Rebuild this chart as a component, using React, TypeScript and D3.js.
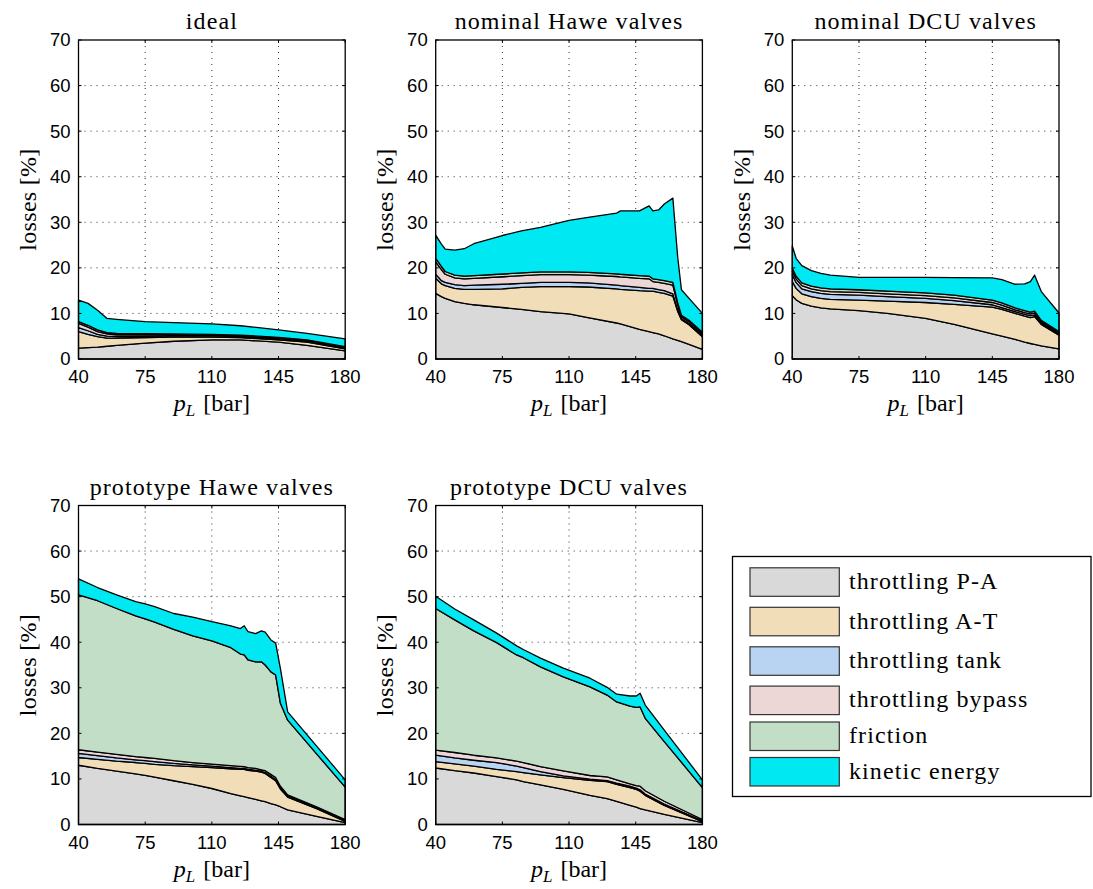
import React from "react";
import * as d3 from "d3";

// ---------- data ----------
const layerNames = ["throttling P-A", "throttling A-T", "throttling tank", "throttling bypass", "friction", "kinetic energy"];
const layerColors = ["#d9d9d9", "#f2ddb9", "#b9d4f3", "#ecd6d6", "#c3dec7", "#00e9f2"];
const xTicks = [40, 75, 110, 145, 180];
const yTicks = [0, 10, 20, 30, 40, 50, 60, 70];

// ideal
const idealX = [40, 45, 50, 55, 60, 75, 90, 110, 125, 145, 160, 180];
const idealPA = [2.4, 2.5, 2.6, 2.8, 3.0, 3.5, 3.9, 4.2, 4.2, 3.7, 3.0, 1.8];
const idealAT = [3.6, 2.9, 2.3, 1.8, 1.6, 1.2, 0.9, 0.6, 0.5, 0.5, 0.7, 0.4];
const idealTank = [0.9, 0.8, 0.5, 0.4, 0.3, 0.25, 0.2, 0.2, 0.2, 0.2, 0.15, 0.15];
const idealBypass = [0.9, 0.8, 0.6, 0.5, 0.4, 0.35, 0.3, 0.25, 0.2, 0.2, 0.2, 0.2];
const idealFriction = [0.4, 0.4, 0.4, 0.3, 0.3, 0.25, 0.2, 0.15, 0.15, 0.15, 0.15, 0.15];
const idealKinetic = [4.7, 4.8, 4.3, 3.1, 3.1, 2.65, 2.5, 2.3, 2.05, 1.65, 1.4, 1.7];

// nominal Hawe valves
const nomHaweX = [40, 43, 45, 50, 55, 60, 75, 85, 95, 110, 120, 135, 137, 147, 152, 154, 157, 160, 164.5, 167, 169, 173, 180];
const nomHawePA = [14.4, 13.7, 13.3, 12.6, 12.2, 11.9, 11.3, 10.9, 10.4, 9.9, 9.1, 7.9, 7.7, 6.5, 6.0, 5.8, 5.5, 5.1, 4.4, 4.1, 3.8, 3.2, 2.1];
const nomHaweAT = [3.3, 2.8, 2.8, 2.9, 3.1, 3.4, 4.1, 4.8, 5.5, 6.0, 6.7, 7.5, 7.6, 8.5, 8.9, 9.1, 9.1, 9.3, 9.4, 6.4, 4.8, 4.3, 2.8];
const nomHaweTank = [0.9, 0.7, 0.7, 0.8, 0.8, 0.9, 1.0, 0.9, 0.9, 0.9, 0.9, 0.8, 0.8, 0.7, 0.6, 0.6, 0.6, 0.6, 0.5, 0.4, 0.3, 0.3, 0.3];
const nomHaweBypass = [2.7, 2.4, 1.8, 1.5, 1.5, 1.5, 1.65, 1.7, 1.7, 1.7, 1.7, 1.9, 1.9, 2.0, 2.1, 1.5, 1.6, 1.6, 1.9, 1.1, 0.4, 0.4, 0.4];
const nomHaweFriction = [0.8, 0.7, 0.6, 0.6, 0.6, 0.6, 0.6, 0.6, 0.6, 0.6, 0.6, 0.6, 0.6, 0.6, 0.6, 0.6, 0.6, 0.6, 0.6, 0.4, 0.3, 0.3, 0.3];
const nomHaweKinetic = [5.1, 4.9, 4.9, 5.5, 6.0, 7.0, 8.45, 9.2, 9.8, 11.3, 12.1, 13.3, 13.9, 14.2, 15.4, 14.9, 15.3, 16.8, 18.5, 10.1, 5.6, 4.8, 4.1];

// nominal DCU valves
const nomDcuX = [40, 42, 45, 50, 55, 60, 75, 90, 110, 125, 145, 150, 157, 162, 165, 167.2, 170.7, 180];
const nomDcuPA = [13.9, 13.0, 12.2, 11.6, 11.2, 11.0, 10.6, 10.0, 8.9, 7.6, 5.5, 5.0, 4.3, 3.7, 3.4, 3.2, 2.9, 2.2];
const nomDcuAT = [3.1, 2.5, 2.1, 2.1, 2.1, 2.1, 2.3, 2.7, 3.5, 4.4, 5.9, 5.9, 5.7, 5.7, 5.7, 6.1, 4.7, 3.0];
const nomDcuTank = [1.5, 1.3, 1.1, 1.1, 1.1, 1.1, 1.1, 1.0, 0.9, 0.8, 0.5, 0.4, 0.4, 0.4, 0.4, 0.4, 0.3, 0.2];
const nomDcuBypass = [0.7, 0.8, 0.7, 0.6, 0.6, 0.6, 0.6, 0.6, 0.6, 0.6, 0.5, 0.5, 0.4, 0.4, 0.4, 0.4, 0.3, 0.3];
const nomDcuFriction = [0.7, 0.6, 0.6, 0.6, 0.6, 0.6, 0.6, 0.6, 0.6, 0.6, 0.5, 0.5, 0.4, 0.4, 0.4, 0.4, 0.3, 0.3];
const nomDcuKinetic = [4.9, 3.9, 3.8, 3.4, 3.2, 3.0, 2.7, 3.0, 3.4, 3.85, 4.9, 5.1, 5.2, 5.9, 6.7, 7.9, 6.3, 4.1];

// prototype Hawe valves
const protoHaweX = [40, 50, 60, 70, 75, 80, 90, 100, 110, 120, 125, 127, 129, 133, 136, 138, 141, 143.5, 146, 149.8, 165, 180];
const protoHawePA = [13.0, 12.3, 11.7, 11.1, 10.8, 10.4, 9.6, 8.8, 7.9, 6.8, 6.3, 6.1, 5.9, 5.5, 5.2, 5.0, 4.6, 4.3, 3.9, 3.2, 1.8, 0.4];
const protoHaweAT = [1.7, 2.0, 2.2, 2.5, 2.6, 2.8, 3.3, 3.9, 4.6, 5.4, 5.8, 6.0, 6.0, 6.2, 6.3, 6.2, 5.7, 5.3, 3.9, 2.8, 1.7, 0.3];
const protoHaweTank = [0.9, 0.8, 0.7, 0.6, 0.6, 0.6, 0.5, 0.4, 0.3, 0.3, 0.2, 0.2, 0.2, 0.2, 0.2, 0.2, 0.3, 0.2, 0.2, 0.2, 0.2, 0.2];
const protoHaweBypass = [0.8, 0.8, 0.8, 0.7, 0.7, 0.7, 0.6, 0.5, 0.45, 0.4, 0.45, 0.4, 0.4, 0.4, 0.3, 0.4, 0.4, 0.5, 0.4, 0.3, 0.2, 0.2];
const protoHaweFriction = [34.0, 33.2, 32.0, 30.9, 30.4, 29.9, 28.8, 27.8, 27.05, 25.9, 24.65, 24.5, 23.6, 23.4, 23.7, 23.2, 22.5, 22.5, 18.2, 16.4, 11.6, 7.1];
const protoHaweKinetic = [3.5, 2.9, 3.0, 3.1, 3.3, 3.4, 3.5, 4.1, 4.2, 4.8, 5.6, 6.4, 6.2, 6.2, 6.8, 7.2, 7.0, 7.0, 7.6, 1.8, 1.7, 1.6];

// prototype DCU valves
const protoDcuX = [40, 50, 60, 72, 82.5, 86, 95, 107, 121, 130, 135, 142, 145.3, 147.3, 150, 160, 180];
const protoDcuPA = [12.4, 11.8, 11.3, 10.5, 9.8, 9.4, 8.7, 7.7, 6.4, 5.7, 5.1, 4.2, 3.8, 3.5, 3.2, 2.2, 0.4];
const protoDcuAT = [1.4, 1.5, 1.5, 1.6, 1.8, 2.0, 2.2, 2.6, 3.3, 3.7, 3.7, 3.9, 3.9, 3.8, 3.2, 2.0, 0.2];
const protoDcuTank = [1.4, 1.3, 1.3, 1.5, 1.2, 1.1, 0.7, 0.35, 0.25, 0.25, 0.3, 0.3, 0.3, 0.3, 0.3, 0.3, 0.2];
const protoDcuBypass = [1.1, 1.2, 1.1, 1.0, 1.1, 1.1, 1.1, 1.1, 0.8, 0.8, 0.7, 0.5, 0.55, 0.8, 0.7, 0.6, 0.3];
const protoDcuFriction = [31.1, 29.1, 27.3, 25.3, 23.3, 23.0, 21.9, 20.65, 19.45, 17.95, 17.1, 17.1, 17.15, 17.4, 15.9, 13.1, 7.0];
const protoDcuKinetic = [2.7, 2.4, 2.4, 2.1, 2.0, 1.8, 1.9, 1.9, 1.9, 1.7, 1.7, 2.2, 2.5, 3.0, 2.9, 2.5, 1.7];

const panels = [
  { title: "ideal", col: 0, row: 0, x: idealX, layers: [idealPA, idealAT, idealTank, idealBypass, idealFriction, idealKinetic] },
  { title: "nominal Hawe valves", col: 1, row: 0, x: nomHaweX, layers: [nomHawePA, nomHaweAT, nomHaweTank, nomHaweBypass, nomHaweFriction, nomHaweKinetic] },
  { title: "nominal DCU valves", col: 2, row: 0, x: nomDcuX, layers: [nomDcuPA, nomDcuAT, nomDcuTank, nomDcuBypass, nomDcuFriction, nomDcuKinetic] },
  { title: "prototype Hawe valves", col: 0, row: 1, x: protoHaweX, layers: [protoHawePA, protoHaweAT, protoHaweTank, protoHaweBypass, protoHaweFriction, protoHaweKinetic] },
  { title: "prototype DCU valves", col: 1, row: 1, x: protoDcuX, layers: [protoDcuPA, protoDcuAT, protoDcuTank, protoDcuBypass, protoDcuFriction, protoDcuKinetic] },
];

// ---------- layout ----------
const colLeft = [78.5, 435.7, 792.3];
const rowTop = [40, 505.5];
const W = 266.7;
const H = 319;
const SERIF = "'Liberation Serif', 'Times New Roman', serif";
const SANS = "'Liberation Sans', Arial, Helvetica, sans-serif";

function Panel({ p }: { p: any }) {
  const left = colLeft[p.col];
  const top = rowTop[p.row];
  const x = d3.scaleLinear().domain([40, 180]).range([left, left + W]);
  const y = d3.scaleLinear().domain([0, 70]).range([top + H, top]);
  const rows = p.x.map((xv: number, i: number) => {
    const r: any = { x: xv };
    layerNames.forEach((k, j) => (r[k] = p.layers[j][i]));
    return r;
  });
  const series = d3.stack<any>().keys(layerNames)(rows);
  const area = d3
    .area<any>()
    .x((d: any) => x(d.data.x))
    .y0((d: any) => y(d[0]))
    .y1((d: any) => y(d[1]));
  const cx = left + W / 2;
  return (
    <g>
      {/* grid */}
      {xTicks.slice(1, -1).map((t) => (
        <line key={"gx" + t} x1={x(t)} x2={x(t)} y1={top} y2={top + H} stroke="#333" strokeWidth={1} strokeDasharray="1 5" />
      ))}
      {yTicks.slice(1, -1).map((t) => (
        <line key={"gy" + t} x1={left} x2={left + W} y1={y(t)} y2={y(t)} stroke="#333" strokeWidth={1} strokeDasharray="1 5" />
      ))}
      {/* areas */}
      {series.map((s, i) => (
        <path key={"a" + i} d={area(s as any) || ""} fill={layerColors[i]} stroke="#000" strokeWidth={1.3} strokeLinejoin="round" />
      ))}
      {/* ticks */}
      {xTicks.map((t) => (
        <g key={"tx" + t}>
          <line x1={x(t)} x2={x(t)} y1={top + H} y2={top + H - 3} stroke="#000" />
          <line x1={x(t)} x2={x(t)} y1={top} y2={top + 3} stroke="#000" />
          <text x={x(t)} y={top + H + 24} textAnchor="middle" fontFamily={SANS} fontSize={18.5} fill="#000">
            {t}
          </text>
        </g>
      ))}
      {yTicks.map((t) => (
        <g key={"ty" + t}>
          <line x1={left} x2={left + 3} y1={y(t)} y2={y(t)} stroke="#000" />
          <line x1={left + W} x2={left + W - 3} y1={y(t)} y2={y(t)} stroke="#000" />
          <text x={left - 8} y={y(t)} dy="0.35em" textAnchor="end" fontFamily={SANS} fontSize={18.5} fill="#000">
            {t}
          </text>
        </g>
      ))}
      {/* frame */}
      <rect x={left} y={top} width={W} height={H} fill="none" stroke="#000" strokeWidth={1.3} />
      {/* title */}
      <text x={cx} y={top - 11} textAnchor="middle" fontFamily={SERIF} fontSize={24} letterSpacing={1.1} fill="#000">
        {p.title}
      </text>
      {/* x label */}
      <text x={cx} y={top + H + 52} textAnchor="middle" fontFamily={SERIF} fontSize={24} fill="#000">
        <tspan fontStyle="italic">p</tspan>
        <tspan fontStyle="italic" fontSize={17} dy={5}>L</tspan>
        <tspan dy={-5} dx={8}>[bar]</tspan>
      </text>
      {/* y label */}
      <text
        transform={`translate(${left - 51},${top + H / 2}) rotate(-90)`}
        textAnchor="middle"
        dy="0.35em"
        fontFamily={SERIF}
        fontSize={24}
        letterSpacing={0.3}
        fill="#000"
      >
        losses [%]
      </text>
    </g>
  );
}

const legendRowY = [582, 621.5, 661, 700.3, 736.2, 771.7];

function Legend() {
  return (
    <g>
      <rect x={732.5} y={556.5} width={358.5} height={240} fill="#fff" stroke="#000" strokeWidth={1.3} />
      {layerNames.map((n, i) => (
        <g key={n}>
          <rect x={750} y={legendRowY[i] - 14.2} width={89.3} height={28.5} fill={layerColors[i]} stroke="#333" strokeWidth={1.2} />
          <text x={849} y={legendRowY[i] + 7} fontFamily={SERIF} fontSize={24} letterSpacing={1.1} fill="#000">
            {n}
          </text>
        </g>
      ))}
    </g>
  );
}

export default function App() {
  return (
    <svg width={1093} height={889} style={{ position: "absolute", left: 0, top: 0, background: "#fff" }}>
      <rect x={0} y={0} width={1093} height={889} fill="#fff" />
      {panels.map((p) => (
        <Panel key={p.title} p={p} />
      ))}
      <Legend />
    </svg>
  );
}
